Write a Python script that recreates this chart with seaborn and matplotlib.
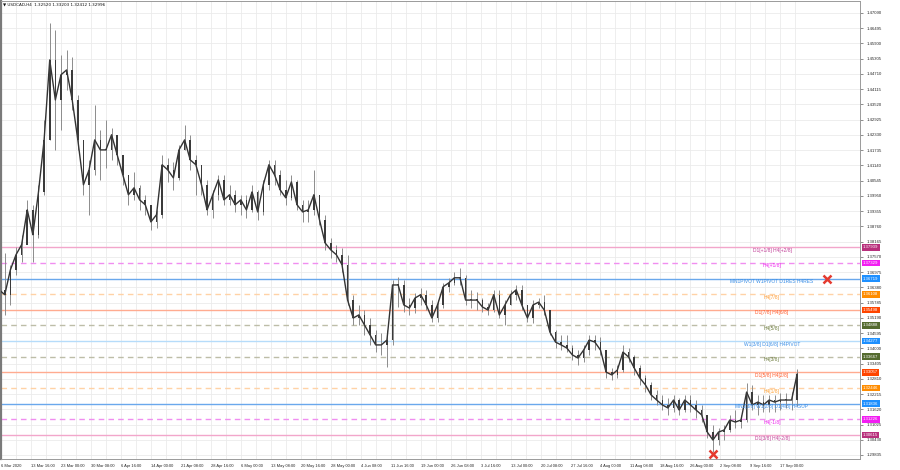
import numpy as np
import pandas as pd
import matplotlib
matplotlib.use("Agg")
import matplotlib.pyplot as plt
import matplotlib.transforms as mtransforms
import seaborn as sns

# ---------------- data ----------------
header = "\u25BC USDCAD,H4  1.32520 1.33203 1.32412 1.32996"

open_first = 1.3647
close = [1.3628, 1.3609, 1.3706, 1.3765, 1.3804, 1.3940, 1.3843, 1.4010, 1.4213, 1.4525,
         1.4369, 1.4467, 1.4486, 1.4369, 1.4213, 1.4038, 1.4096, 1.4213, 1.4174, 1.4174,
         1.4233, 1.4155, 1.4077, 1.3999, 1.4026, 1.3979, 1.3960, 1.3893, 1.3921, 1.4116,
         1.4096, 1.4065, 1.4174, 1.4213, 1.4135, 1.4116, 1.4038, 1.3940, 1.3999, 1.4057,
         1.3979, 1.3999, 1.3960, 1.3979, 1.3940, 1.4010, 1.3932, 1.4038, 1.4116, 1.4077,
         1.4018, 1.3987, 1.4049, 1.3960, 1.3932, 1.3940, 1.3999, 1.3901, 1.3811, 1.3784,
         1.3765, 1.3726, 1.3588, 1.3518, 1.3530, 1.3491, 1.3452, 1.3413, 1.3413, 1.3432,
         1.3647, 1.3647, 1.3569, 1.3557, 1.3596, 1.3609, 1.3569, 1.3518, 1.3569, 1.3640,
         1.3655, 1.3675, 1.3675, 1.3588, 1.3588, 1.3588, 1.3561, 1.3549, 1.3609, 1.3530,
         1.3569, 1.3609, 1.3628, 1.3569, 1.3518, 1.3569, 1.3580, 1.3549, 1.3463, 1.3424,
         1.3413, 1.3401, 1.3374, 1.3362, 1.3393, 1.3432, 1.3424, 1.3393, 1.3307, 1.3296,
         1.3315, 1.3385, 1.3366, 1.3323, 1.3284, 1.3257, 1.3218, 1.3198, 1.3179, 1.3167,
         1.3198, 1.3159, 1.3198, 1.3179, 1.3159, 1.3140, 1.3073, 1.3042, 1.3073, 1.3081,
         1.3120, 1.3112, 1.3120, 1.3229, 1.3179, 1.3190, 1.3179, 1.3198, 1.3190, 1.3198,
         1.3198, 1.3198, 1.3300]
high = [1.3667, 1.3772, 1.3726, 1.3796, 1.3843, 1.3979, 1.3960, 1.4038, 1.4291, 1.4669,
        1.4642, 1.4545, 1.4564, 1.4537, 1.4389, 1.4213, 1.4135, 1.4350, 1.4252, 1.4291,
        1.4260, 1.4233, 1.4155, 1.4077, 1.4088, 1.4038, 1.3999, 1.3948, 1.3940, 1.4155,
        1.4143, 1.4127, 1.4194, 1.4272, 1.4233, 1.4155, 1.4116, 1.4057, 1.4018, 1.4077,
        1.4077, 1.4038, 1.4018, 1.3999, 1.3999, 1.4038, 1.4018, 1.4057, 1.4135, 1.4135,
        1.4096, 1.4057, 1.4077, 1.4057, 1.3979, 1.3979, 1.4096, 1.3999, 1.3921, 1.3831,
        1.3804, 1.3792, 1.3765, 1.3609, 1.3569, 1.3549, 1.3518, 1.3471, 1.3459, 1.3471,
        1.3667, 1.3679, 1.3667, 1.3596, 1.3616, 1.3635, 1.3628, 1.3588, 1.3588, 1.3655,
        1.3675, 1.3698, 1.3714, 1.3687, 1.3628, 1.3620, 1.3596, 1.3576, 1.3628, 1.3628,
        1.3588, 1.3628, 1.3647, 1.3647, 1.3569, 1.3588, 1.3596, 1.3609, 1.3549, 1.3471,
        1.3452, 1.3452, 1.3413, 1.3393, 1.3413, 1.3452, 1.3452, 1.3444, 1.3393, 1.3323,
        1.3335, 1.3413, 1.3401, 1.3374, 1.3335, 1.3296, 1.3268, 1.3237, 1.3218, 1.3206,
        1.3218, 1.3206, 1.3218, 1.3218, 1.3198, 1.3179, 1.3140, 1.3101, 1.3089, 1.3101,
        1.3140, 1.3159, 1.3140, 1.3264, 1.3257, 1.3218, 1.3218, 1.3218, 1.3218, 1.3225,
        1.3225, 1.3229, 1.3320]
low = [1.3588, 1.3530, 1.3569, 1.3687, 1.3737, 1.3823, 1.3737, 1.3831, 1.3999, 1.4213,
       1.4174, 1.4252, 1.4408, 1.4330, 1.4174, 1.3999, 1.3921, 1.4077, 1.4057, 1.4104,
       1.4135, 1.4116, 1.4038, 1.3960, 1.3979, 1.3940, 1.3921, 1.3862, 1.3870, 1.3909,
       1.4049, 1.4018, 1.4057, 1.4174, 1.4096, 1.3999, 1.3999, 1.3921, 1.3909, 1.3979,
       1.3960, 1.3960, 1.3932, 1.3921, 1.3909, 1.3932, 1.3901, 1.3921, 1.4018, 1.4038,
       1.3999, 1.3960, 1.3979, 1.3940, 1.3893, 1.3893, 1.3921, 1.3882, 1.3784, 1.3753,
       1.3737, 1.3698, 1.3569, 1.3491, 1.3491, 1.3452, 1.3413, 1.3385, 1.3374, 1.3327,
       1.3413, 1.3561, 1.3541, 1.3530, 1.3537, 1.3569, 1.3549, 1.3502, 1.3502, 1.3557,
       1.3620, 1.3647, 1.3647, 1.3569, 1.3557, 1.3549, 1.3541, 1.3530, 1.3541, 1.3518,
       1.3491, 1.3569, 1.3588, 1.3549, 1.3502, 1.3498, 1.3557, 1.3530, 1.3452, 1.3401,
       1.3393, 1.3385, 1.3354, 1.3335, 1.3346, 1.3374, 1.3393, 1.3374, 1.3284, 1.3276,
       1.3284, 1.3307, 1.3346, 1.3296, 1.3257, 1.3229, 1.3198, 1.3179, 1.3159, 1.3140,
       1.3151, 1.3140, 1.3151, 1.3151, 1.3128, 1.3112, 1.3050, 1.2995, 1.3023, 1.3042,
       1.3073, 1.3089, 1.3089, 1.3112, 1.3159, 1.3140, 1.3151, 1.3151, 1.3151, 1.3159,
       1.3167, 1.3159, 1.3175]

level_prices = [1.37939, 1.37329, 1.36719, 1.36108, 1.35498, 1.34888, 1.34277,
                1.33667, 1.33057, 1.32446, 1.31836, 1.31226, 1.30615]
level_labels = ["D1[+1/8] H4[+2/8]", "H4[+1/8]", "MN1PIVOT W1PIVOT D1RES H4RES",
                "H4[7/8]", "D1[7/8] H4[6/8]", "H4[5/8]", "W1[3/8] D1[6/8] H4PIVOT",
                "H4[3/8]", "D1[5/8] H4[2/8]", "H4[1/8]",
                "MN1[3/8] W1[2/8] D1[4/8] H4SUP", "H4[-1/8]", "D1[3/8] H4[-2/8]"]

price_ticks = [1.47090, 1.46495, 1.45900, 1.45305, 1.44710, 1.44115, 1.43520, 1.42925,
               1.42330, 1.41735, 1.41140, 1.40545, 1.39950, 1.39355, 1.38760, 1.38165,
               1.37570, 1.36975, 1.36380, 1.35785, 1.35190, 1.34595, 1.34000, 1.33405,
               1.32810, 1.32215, 1.31620, 1.31025, 1.30430, 1.29835]

time_labels = ["6 Mar 2020", "13 Mar 16:00", "23 Mar 00:00", "30 Mar 08:00", "6 Apr 16:00",
               "14 Apr 00:00", "21 Apr 08:00", "28 Apr 16:00", "6 May 00:00", "13 May 08:00",
               "20 May 16:00", "28 May 00:00", "4 Jun 08:00", "11 Jun 16:00", "19 Jun 00:00",
               "26 Jun 08:00", "3 Jul 16:00", "13 Jul 00:00", "20 Jul 08:00", "27 Jul 16:00",
               "4 Aug 00:00", "11 Aug 08:00", "18 Aug 16:00", "26 Aug 00:00", "2 Sep 08:00",
               "9 Sep 16:00", "17 Sep 00:00"]

signal_prices = [1.36719, 1.2987]

# ---------------- styles ----------------
level_line_colors = ["#f2a6cb", "#f08ef0", "#6aa8ec", "#ffd2a6", "#ffab90", "#bdbda8", "#b6dcfa",
                     "#bdbda8", "#ffab90", "#ffd2a6", "#6aa8ec", "#f08ef0", "#f2a6cb"]
level_styles = ["-", "--", "-", "--", "-", "--", "-", "--", "-", "--", "-", "--", "-"]
level_box_colors = ["#b8307c", "#f21df2", "#1e90ff", "#ff8c00", "#ff4500", "#556b2f", "#1e90ff",
                    "#556b2f", "#ff4500", "#ff8c00", "#1e90ff", "#f21df2", "#b8307c"]
level_text_colors = ["#c03c96", "#ee22ee", "#3a8ee6", "#ff9a30", "#ff5a2a", "#6b7a3a", "#3a8ee6",
                     "#6b7a3a", "#ff5a2a", "#ffa030", "#3a8ee6", "#ee22ee", "#c03c96"]

sns.set_style("white")
plt.rcParams["font.family"] = ["Liberation Sans", "DejaVu Sans"]

W, H = 900, 470
fig = plt.figure(figsize=(9, 4.7), dpi=100)
ax = fig.add_axes([1 / W, 1 - 459 / H, 859 / W, 458 / H])

def day_of(px):
    return (px + 0.85) / 5.62

base = np.datetime64("2020-03-06")

def label_day(s):
    parts = s.split()
    d = pd.Timestamp(f"{parts[0]} {parts[1]} 2020")
    hour = 0.0
    if ":" in parts[2]:
        hour = int(parts[2].split(":")[0])
    return np.busday_count(base, np.datetime64(d.date())) + hour / 24.0

x = np.arange(len(close))
opens = [open_first] + close[:-1]
df = pd.DataFrame({"x": x, "open": opens, "high": high, "low": low, "close": close})

# level lines
for p, c, ls in zip(level_prices, level_line_colors, level_styles):
    if ls == "--":
        ax.axhline(p, color=c, lw=1.0, ls=(0, (4, 3)), zorder=1)
    else:
        ax.axhline(p, color=c, lw=1.0, ls="-", zorder=1)

# candles (thin wicks, narrow dark bodies, connecting close path)
ax.vlines(df["x"], df["low"], df["high"], color="#8c8c8c", lw=0.7, zorder=3)
sns.lineplot(data=df, x="x", y="close", ax=ax, color="#333333", lw=1.0, zorder=4)
body_lo = np.minimum(df["open"], df["close"])
body_h = np.maximum(np.abs(df["close"] - df["open"]), 0.0003)
ax.bar(df["x"], body_h, bottom=body_lo, width=0.28, color="#3a3a3a", zorder=4, linewidth=0)

# level labels
lab_x = day_of(772)
for p, t, c in zip(level_prices, level_labels, level_text_colors):
    ax.text(lab_x, p - 0.0002, t, ha="center", va="top", fontsize=3.5, color=c, zorder=6)

# red crosses
sig_x = [day_of(827), day_of(713)]
ax.plot(sig_x, signal_prices, ls="none", marker="x", ms=6, mew=1.8, color="#e53a2f", zorder=7)

# axes limits
ax.set_xlim(day_of(1), day_of(860))
ax.set_ylim(1.47589 - 0.0003902 * 459, 1.47589 - 0.0003902 * 1)

# y axis on right
ax.yaxis.tick_right()
ax.set_yticks(price_ticks)
ax.set_yticklabels([f"{v:.5f}" for v in price_ticks], fontsize=3.1)
ax.tick_params(axis="y", length=2, width=0.5, pad=3, color="#606060")

# x axis
tpos = [max(label_day(s), day_of(1.5)) for s in time_labels]
ax.set_xticks(tpos)
ax.set_xticklabels(time_labels, fontsize=2.9, ha="left")
ax.set_xticks([t + 16 / 6 for t in tpos[1:]] + [tpos[1] - 16 / 6], minor=True)
ax.tick_params(axis="x", which="major", length=2, width=0.5, pad=1.5, color="#606060")
ax.tick_params(axis="x", which="minor", length=0)

ax.grid(True, which="both", axis="x", color="#ebebeb", lw=0.6, zorder=0)
ax.grid(True, which="major", axis="y", color="#ebebeb", lw=0.6, zorder=0)
ax.set_xlabel("")
ax.set_ylabel("")

for side in ["top", "right", "bottom"]:
    ax.spines[side].set_color("#9a9a9a")
    ax.spines[side].set_linewidth(0.7)
ax.spines["left"].set_color("#7a7a7a")
ax.spines["left"].set_linewidth(1.6)

# boxed level prices on the right axis
trans = mtransforms.blended_transform_factory(ax.transAxes, ax.transData)
for p, bc in zip(level_prices, level_box_colors):
    ax.text(1.0035, p, f"{p:.5f}", transform=trans, ha="left", va="center", fontsize=3.1,
            color="white", zorder=8, clip_on=False,
            bbox=dict(boxstyle="square,pad=0.3", fc=bc, ec="none"))

fig.text(3 / W, 1 - 5 / H, header, ha="left", va="center", fontsize=3.0, color="#111111",
         family=["DejaVu Sans"])

fig.savefig("out.png", dpi=100)
